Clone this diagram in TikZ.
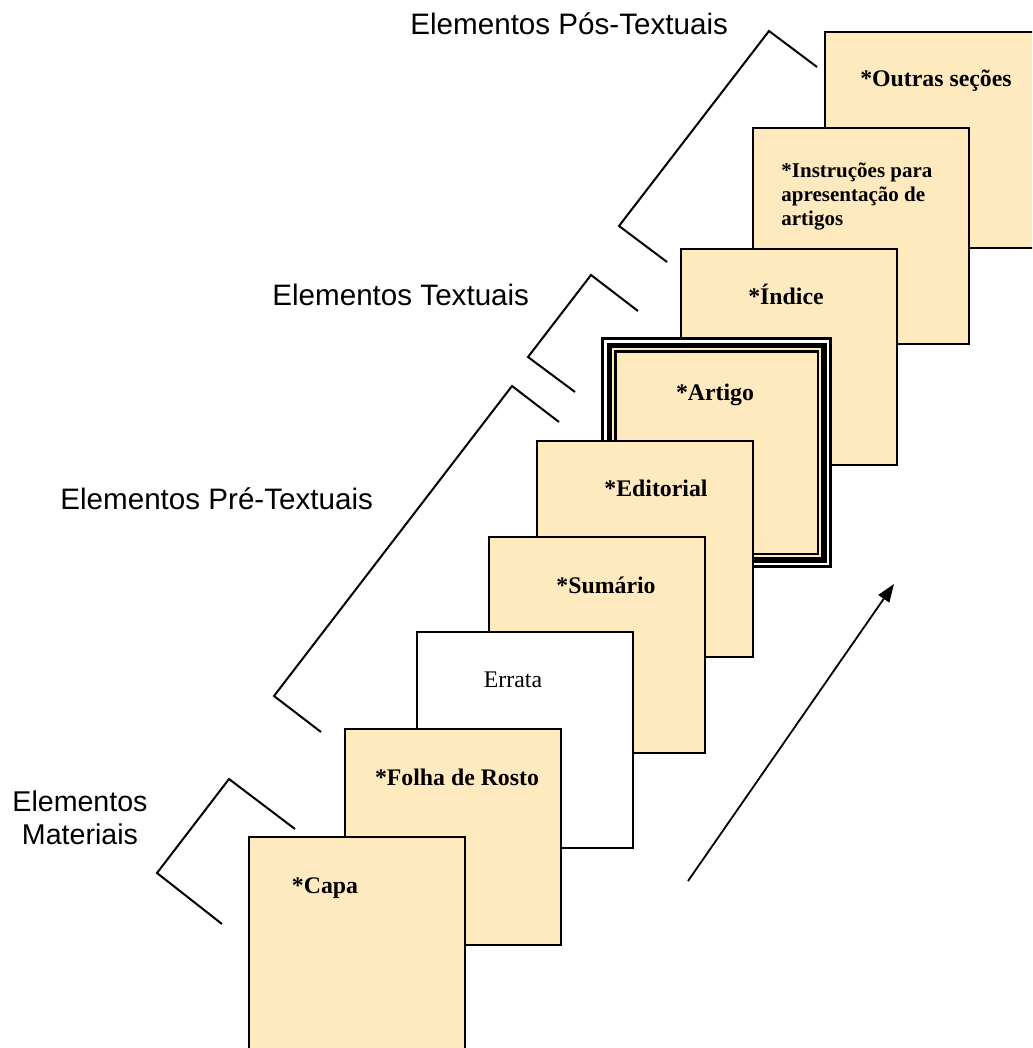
\documentclass[tikz,border=0pt]{standalone}
\usepackage{fontspec}
\setmainfont{Liberation Serif}
\newfontfamily\arialfont{Liberation Sans}
\usetikzlibrary{arrows.meta}
\definecolor{folha}{RGB}{255,233,191}

\begin{document}
\begin{tikzpicture}[x=.5pt,y=-.5pt,
  pagina/.style={draw,line width=1pt,fill=folha,anchor=north west,inner sep=0pt,outer sep=0pt,minimum width=108pt,minimum height=108pt},
  titulo/.style={anchor=base,inner sep=0pt,font=\fontsize{11.9}{12}\selectfont\bfseries},
  grupo/.style={anchor=base west,inner sep=0pt,font=\arialfont\fontsize{14.8}{16.5}\selectfont},
  chave/.style={line width=1pt,line join=miter}]
\clip (0,0) rectangle (1032,1048);
% pos-textuais
\node[pagina] (outras) at (825,32) {};
\node[titulo] (outrastxt) at (936,87) {*Outras seções};
\node[pagina] (instrucoes) at (753,128) {};
\node[titulo,anchor=north west,align=left,font=\fontsize{10.5}{12}\selectfont\bfseries] (instrucoestxt) at (781,162) {*Instruções para\\apresentação de\\artigos};
\node[pagina] (indice) at (681,249) {};
\node[titulo] (indicetxt) at (786,304) {*Índice};
% textuais
\fill (601,337) rectangle (832,568);
\fill[white] (604,340) rectangle (829,565);
\fill (606.5,342.5) rectangle (826.5,562.5);
\fill[folha] (612,348) rectangle (821,557);
\fill (614,350) rectangle (819,555);
\fill[folha] (616.5,352.5) rectangle (816.5,552.5);
\node[titulo] (artigotxt) at (715,400) {*Artigo};
% pre-textuais
\node[pagina] (editorial) at (537,441) {};
\node[titulo] (editorialtxt) at (656,496) {*Editorial};
\node[pagina] (sumario) at (489,537) {};
\node[titulo] (sumariotxt) at (606,593) {*Sumário};
\node[pagina,fill=white] (errata) at (417,632) {};
\node[titulo,font=\fontsize{11.9}{12}\selectfont] (erratatxt) at (513,687) {Errata};
\node[pagina] (rosto) at (345,729) {};
\node[titulo] (rostotxt) at (457,785) {*Folha de Rosto};
% materiais
\node[pagina] (capa) at (249,837) {};
\node[titulo] (capatxt) at (325,893) {*Capa};
% chaves
\draw[chave] (222,924) -- (157,873) -- (229,779) -- (295,829);
\draw[chave] (321,732) -- (274,696) -- (512,386) -- (559,422);
\draw[chave] (575,392) -- (528,357) -- (591,275) -- (638,311);
\draw[chave] (667,262) -- (619,226) -- (769,31) -- (817,67);
% rotulos
\node[grupo] (pos) at (410,35) {Elementos Pós-Textuais};
\node[grupo] (textuais) at (272,305) {Elementos Textuais};
\node[grupo] (pre) at (60,509) {Elementos Pré-Textuais};
\node[grupo,anchor=center,align=center,font=\arialfont\fontsize{14.3}{16.5}\selectfont] (materiais) at (80,818) {Elementos\\Materiais};
% seta
\coordinate (inicio) at (688,881);
\coordinate (fim) at (894,584);
\draw[line width=.9pt,-{Triangle[length=9pt,width=6.5pt]}] (inicio) -- (fim);
\end{tikzpicture}
\end{document}
